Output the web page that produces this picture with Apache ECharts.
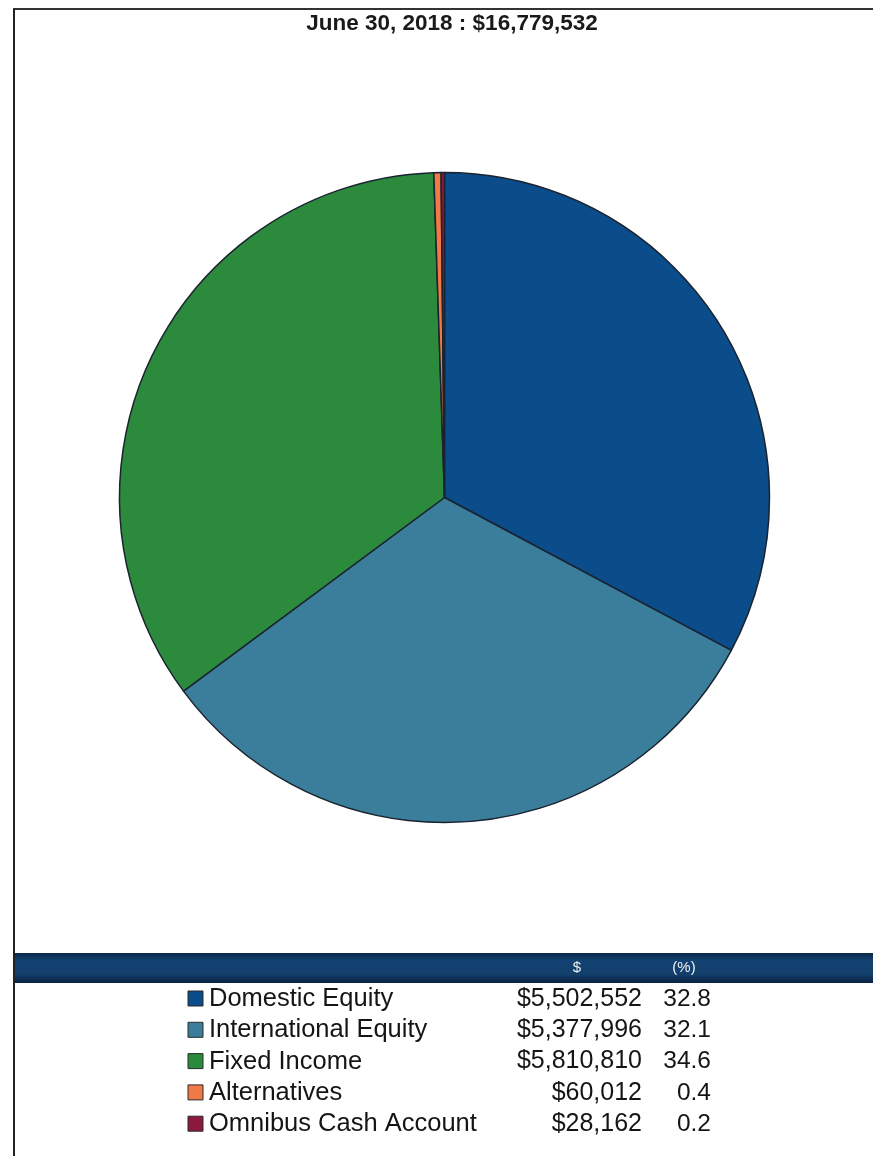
<!DOCTYPE html>
<html>
<head>
<meta charset="utf-8">
<script src="https://cdn.jsdelivr.net/npm/echarts@6/dist/echarts.min.js"></script>
<style>
html,body{margin:0;padding:0;background:#fff;}
#main{width:873px;height:1156px;}
</style>
</head>
<body>
<div id="main"></div>
<script>
const titleText = 'June 30, 2018 : $16,779,532';
const categories = ['Domestic Equity', 'International Equity', 'Fixed Income', 'Alternatives', 'Omnibus Cash Account'];
const values = [5502552, 5377996, 5810810, 60012, 28162];
const percents = ['32.8', '32.1', '34.6', '0.4', '0.2'];
const colors = ['#0b4c8a', '#3a7e9b', '#2c8a3c', '#f07a45', '#8c1a3c'];
const headerLabels = ['$', '(%)'];

function fmtMoney(v) {
  return '$' + v.toString().replace(/\B(?=(\d{3})+(?!\d))/g, ',');
}

const chart = echarts.init(document.getElementById('main'), null, {renderer: 'canvas'});
const FF = '"Liberation Sans", Arial, sans-serif';

const graphics = [
  {type: 'line', shape: {x1: 13, y1: 9, x2: 873, y2: 9}, style: {stroke: '#333', lineWidth: 2}, z: 10},
  {type: 'line', shape: {x1: 14, y1: 9, x2: 14, y2: 1156}, style: {stroke: '#222', lineWidth: 2}, z: 10},
  {type: 'rect', shape: {x: 14, y: 953, width: 859, height: 30},
   style: {fill: {type: 'linear', x: 0, y: 0, x2: 0, y2: 1, colorStops: [
     {offset: 0, color: '#0b2746'}, {offset: 0.25, color: '#134272'}, {offset: 0.7, color: '#123f6c'}, {offset: 1, color: '#0a2240'}]}}, z: 5},
  {type: 'text', x: 577, y: 968, style: {text: headerLabels[0], fill: '#f0f0f0', font: '15px ' + FF, align: 'center', verticalAlign: 'middle'}, z: 6},
  {type: 'text', x: 684, y: 968, style: {text: headerLabels[1], fill: '#f0f0f0', font: '15px ' + FF, align: 'center', verticalAlign: 'middle'}, z: 6}
];

categories.forEach((name, i) => {
  const cy = 999 + i * 31.3;
  graphics.push({type: 'rect', shape: {x: 188, y: cy - 8, width: 15, height: 15},
    style: {fill: colors[i], stroke: '#2a2a2a', lineWidth: 1}, z: 6});
  graphics.push({type: 'text', x: 209, y: cy, style: {text: name, fill: '#151515', font: '25.5px ' + FF, align: 'left', verticalAlign: 'middle'}, z: 6});
  graphics.push({type: 'text', x: 642, y: cy, style: {text: fmtMoney(values[i]), fill: '#151515', font: '25px ' + FF, align: 'right', verticalAlign: 'middle'}, z: 6});
  graphics.push({type: 'text', x: 711, y: cy, style: {text: percents[i], fill: '#151515', font: '24.5px ' + FF, align: 'right', verticalAlign: 'middle'}, z: 6});
});

chart.setOption({
  animation: false,
  backgroundColor: '#ffffff',
  title: {
    text: titleText,
    left: 447, top: 7, textAlign: 'center',
    textStyle: {fontFamily: FF, fontWeight: 'bold', fontSize: 22.5, color: '#1a1a1a'}
  },
  series: [{
    type: 'pie',
    center: [444.5, 497.5],
    radius: [0, 325],
    startAngle: 90,
    clockwise: true,
    minAngle: 0,
    avoidLabelOverlap: false,
    label: {show: false},
    labelLine: {show: false},
    emphasis: {disabled: true},
    itemStyle: {borderColor: '#1a2330', borderWidth: 1.5},
    data: categories.map((name, i) => ({name: name, value: values[i], itemStyle: {color: colors[i]}}))
  }],
  graphic: graphics
});
</script>
</body>
</html>
